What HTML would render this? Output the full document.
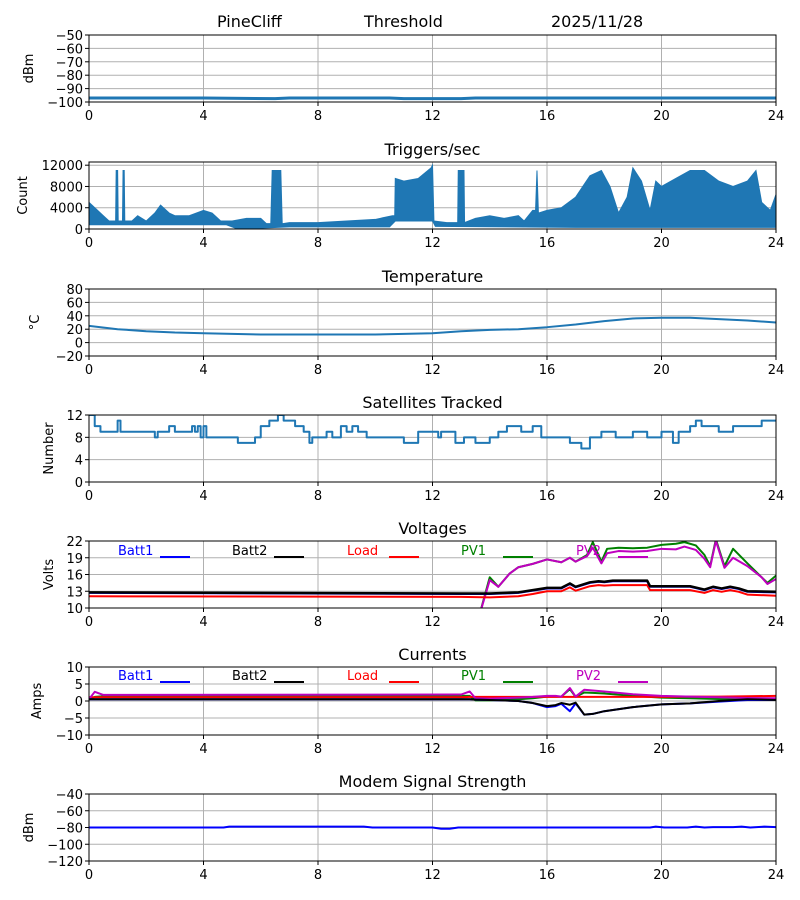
<!DOCTYPE html>
<html><head><meta charset="utf-8"><style>
body{margin:0;background:#fff;}
svg{display:block;font-family:"DejaVu Sans","Liberation Sans",sans-serif;}
</style></head><body>
<svg id="chart" width="800" height="900" xmlns="http://www.w3.org/2000/svg">
<text x="217" y="27" font-size="16">PineCliff</text>
<text x="364" y="27" font-size="16">Threshold</text>
<text x="551" y="27" font-size="16">2025/11/28</text>
</svg>
<script>
const xTicks=[0,4,8,12,16,20,24];
// Panel 1: signal dBm
const sigT=[0,4,6.5,7,10.5,11,13,13.5,18,24];
const sigV=[-97,-97,-97.5,-97,-97,-97.5,-97.5,-97,-97,-97];
// Panel 2: triggers envelope
const trgT=[0,0.3,0.5,0.7,0.93,0.95,1.0,1.02,1.17,1.19,1.23,1.25,1.5,1.7,2,2.3,2.5,2.8,3,3.5,4,4.3,4.6,5,5.5,6,6.2,6.35,6.4,6.7,6.75,7,8,9,10,10.6,10.68,10.7,11,11.5,11.95,12,12.05,12.5,12.88,12.9,13.1,13.12,13.5,14,14.5,15,15.2,15.5,15.6,15.65,15.7,16,16.5,17,17.5,17.9,18.2,18.5,18.8,19,19.3,19.6,19.8,20,20.5,21,21.5,22,22.5,23,23.3,23.5,23.8,24];
const trgHi=[5000,3500,2500,1500,1500,11000,11000,1500,1500,11000,11000,1500,1500,2500,1500,3000,4500,3000,2500,2500,3500,3000,1500,1500,2000,2000,1000,1000,11000,11000,1000,1200,1200,1500,1800,2500,2500,9500,9000,9500,11500,12000,1500,1200,1200,11000,11000,1200,2000,2500,2000,2500,1500,3500,3500,11000,3000,3500,4000,6000,10000,11000,8000,3000,6000,11500,9000,3500,9000,8000,9500,11000,11000,9000,8000,9000,11000,5000,3500,6500];
const trgLoT=[0,4.8,5.2,7,10.5,10.7,12,12.1,17,24];
const trgLo=[800,800,0,400,400,1500,1500,500,300,300];
// Panel 3: temperature
const tmpT=[0,1,2,3,4,5,6,8,10,11,12,13,14,15,16,17,18,19,20,21,22,23,24];
const tmpV=[25,20,17,15,14,13,12,12,12,13,14,17,19,20,23,27,32,36,37,37,35,33,30];
// Panel 4: satellites (step)
const satT=[0,0.2,0.4,1.0,1.1,2.3,2.4,2.8,3.0,3.6,3.7,3.8,3.9,4.0,4.1,4.3,5.2,5.8,6.0,6.3,6.6,6.8,7.2,7.5,7.7,7.8,8.3,8.5,8.8,9.0,9.2,9.4,9.7,10.2,11,11.5,12.2,12.3,12.8,13.1,13.5,14,14.3,14.6,15.1,15.5,15.8,16.8,17.2,17.5,17.9,18.4,19,19.5,20,20.4,20.6,21,21.2,21.4,22,22.5,23.5,24];
const satV=[12,10,9,11,9,8,9,10,9,10,9,10,8,10,8,8,7,8,10,11,12,11,10,9,7,8,9,8,10,9,10,9,8,8,7,9,8,9,7,8,7,8,9,10,9,10,8,7,6,8,9,8,9,8,9,7,9,10,11,10,9,10,11,11];
// Panel 5: voltages
const vT=[0,13,14,15,15.5,16,16.5,16.8,17,17.5,17.8,18,18.3,19,19.5,19.6,21,21.5,21.8,22.1,22.4,22.7,23,24];
const vBatt2=[12.8,12.6,12.6,12.8,13.2,13.6,13.6,14.4,13.8,14.6,14.8,14.7,14.9,14.9,14.9,13.9,13.9,13.3,13.8,13.5,13.8,13.5,13.0,12.9];
const vBatt1=[12.7,12.5,12.5,12.7,13.1,13.5,13.5,14.3,13.7,14.5,14.7,14.6,14.8,14.8,14.8,13.8,13.8,13.2,13.7,13.4,13.7,13.4,12.9,12.8];
const vLoad=[12.1,12.0,11.9,12.1,12.5,13.0,13.0,13.7,13.1,13.9,14.1,14.0,14.1,14.1,14.1,13.2,13.2,12.7,13.2,12.9,13.2,12.9,12.4,12.2];
const pvT=[13.6,14,14.3,14.7,15,15.5,16,16.5,16.8,17,17.4,17.6,17.9,18.1,18.5,19,19.5,20,20.5,20.8,21.2,21.5,21.7,21.9,22.2,22.5,23,23.5,23.7,24];
const vPV1=[8,15.5,13.8,16.2,17.3,17.9,18.7,18.2,19,18.3,19.5,21.8,18.3,20.6,20.8,20.7,20.8,21.3,21.5,21.8,21.2,19.5,17.5,22.3,17.5,20.6,18,15.5,14.5,15.8];
const vPV2=[8,15,13.8,16.2,17.3,17.9,18.7,18.2,19,18.3,19.3,20.8,18,19.8,20.2,20.1,20.2,20.6,20.5,21,20.4,18.8,17.3,22,17.2,19,17.5,15.5,14.3,15.2];
// Panel 6: currents
const aT=[0,0.2,0.5,13,13.3,13.5,14,15,15.5,16,16.3,16.5,16.8,17,17.3,17.6,18,19,20,21,22,23,24];
const aBatt2=[0.5,0.5,0.5,0.5,0.5,0.4,0.3,0,-0.6,-1.5,-1.2,-0.6,-1.1,-0.5,-4,-3.8,-3,-1.8,-1,-0.7,0,0.5,0.3];
const aBatt1=[0.5,0.5,0.5,0.5,0.5,0.4,0.3,0,-0.6,-1.8,-1.5,-0.8,-3,-0.7,-4,-3.8,-3,-1.8,-1,-0.7,-0.2,0.3,0.3];
const aLoad=[1.1,1.1,1.1,1.1,1.2,1.2,1.2,1.2,1.2,1.2,1.2,1.2,1.2,1.2,1.2,1.2,1.2,1.2,1.2,1.3,1.3,1.4,1.5];
const aPV1=[0.5,1.2,1.4,1.5,1.5,0.2,0.2,0.5,0.8,1.3,1.3,1.3,3.5,1.2,2.5,2.4,2.2,1.5,1.0,0.8,0.6,0.4,0.3];
const aPV2=[0.5,2.7,1.8,1.9,2.8,0.8,0.7,1.0,1.2,1.5,1.5,1.3,3.8,1.3,3.3,3.1,2.8,2.0,1.5,1.3,1.1,0.9,0.8];
// Panel 7: modem
const mT=[0,4.7,4.9,9.6,9.9,12,12.3,12.6,12.9,19.6,19.8,20.1,20.9,21.2,21.5,21.8,22.5,22.8,23.1,23.6,24];
const mV=[-80,-80,-79,-79,-80,-80,-81.5,-81.5,-80,-80,-79,-80,-80,-79,-80,-79.5,-79.5,-79,-80,-79,-79.5];

const svg=document.getElementById('chart');
const NS='http://www.w3.org/2000/svg';
const L=89,R=776;
function X(h){return L+(R-L)*h/24;}
function mk(tag,attrs,parent){const e=document.createElementNS(NS,tag);for(const k in attrs)e.setAttribute(k,attrs[k]);(parent||svg).appendChild(e);return e;}
function panel(name,top,bot,ymin,ymax,yTicks,ylabel,title,tickFmt){
  const g=mk('g',{});
  
  
  const Y=v=>bot-(bot-top)*(v-ymin)/(ymax-ymin);
  if(title){const t=mk('text',{x:(L+R)/2,y:top-7,'font-size':16,'text-anchor':'middle'},g);t.textContent=title;
    }
  const gr=mk('g',{stroke:'#b0b0b0','stroke-width':1},g);
  
  xTicks.forEach(h=>{mk('line',{x1:X(h),x2:X(h),y1:top,y2:bot},gr);});
  yTicks.forEach(v=>{mk('line',{x1:L,x2:R,y1:Y(v),y2:Y(v)},gr);});
  const xa=mk('g',{'font-size':13},g);
  
  xTicks.forEach(h=>{mk('line',{x1:X(h),x2:X(h),y1:bot,y2:bot+4,stroke:'#000'},xa);
    const t=mk('text',{x:X(h),y:bot+18,'text-anchor':'middle'},xa);t.textContent=h;});
  const ya=mk('g',{'font-size':13},g);
  
  yTicks.forEach(v=>{mk('line',{x1:L-4,x2:L,y1:Y(v),y2:Y(v),stroke:'#000'},ya);
    const t=mk('text',{x:L-6,y:Y(v)+5,'text-anchor':'end'},ya);t.textContent=(v<0?'\u2212'+(-v):v);});
  const yl=mk('text',{transform:`translate(${tickFmt},${(top+bot)/2}) rotate(-90)`,'font-size':13,'text-anchor':'middle'},g);
  yl.textContent=ylabel;
  const clipId=name+'-clip';
  const cp=mk('clipPath',{id:clipId},g);mk('rect',{x:L,y:top,width:R-L,height:bot-top},cp);
  const plot=mk('g',{'clip-path':`url(#${clipId})`},g);
  
  const frame=mk('rect',{x:L,y:top,width:R-L,height:bot-top,fill:'none',stroke:'#000','stroke-width':1},g);
  
  return {Y,plot,g};
}
function line(p,ts,vs,color,w,nm,step){
  let d='';
  ts.forEach((t,i)=>{const x=X(t),y=p.Y(vs[i]);
    if(i===0)d+=`M${x},${y}`;else if(step)d+=`H${x}V${y}`;else d+=`L${x},${y}`;});
  if(step)d+=`H${X(24)}`;
  const e=mk('path',{d,fill:'none',stroke:color,'stroke-width':w,'stroke-linejoin':'round'},p.plot);
  
  
  return e;
}
function legend(p,y){
  const items=[['Batt1','#0000ff',118],['Batt2','#000000',232],['Load','#ff0000',347],['PV1','#008000',461],['PV2','#bf00bf',576]];
  items.forEach(([lab,c,x])=>{
    const t=mk('text',{x,y:y,'font-size':13,fill:c},p.g);t.textContent=lab;
    
    
    mk('line',{x1:x+42,x2:x+72,y1:y+2,y2:y+2,stroke:c,'stroke-width':2},p.g);
  });
}
const blue='#1f77b4';
// 1
let p=panel('signal',35,102,-100,-50,[-100,-90,-80,-70,-60,-50],'dBm','',33);
line(p,sigT,sigV,blue,3,'signal-line');
// 2
p=panel('triggers',162,229,0,12600,[0,4000,8000,12000],'Count','Triggers/sec',27);
{let d='';trgT.forEach((t,i)=>{d+=(i?'L':'M')+X(t)+','+p.Y(trgHi[i]);});
 for(let i=trgLoT.length-1;i>=0;i--)d+='L'+X(trgLoT[i])+','+p.Y(trgLo[i]);d+='Z';
 const e=mk('path',{d,fill:blue,stroke:blue,'stroke-width':1},p.plot);
 
 }
// 3
p=panel('temperature',289,356,-20,80,[-20,0,20,40,60,80],'\u00b0C','Temperature',39);
line(p,tmpT,tmpV,blue,2,'temperature-line');
// 4
p=panel('satellites',415,482,0,12,[0,4,8,12],'Number','Satellites Tracked',53);
line(p,satT,satV,blue,2,'satellites-line',true);
// 5
p=panel('voltages',541,608,10,22,[10,13,16,19,22],'Volts','Voltages',53);
line(p,pvT,vPV1,'#008000',2,'pv1-voltage-line');
line(p,pvT,vPV2,'#bf00bf',2,'pv2-voltage-line');
line(p,vT,vLoad,'#ff0000',2,'load-voltage-line');
line(p,vT,vBatt1,'#0000ff',2,'batt1-voltage-line');
line(p,vT,vBatt2,'#000000',2.5,'batt2-voltage-line');
legend(p,555);
// 6
p=panel('currents',667,735,-10,10,[-10,-5,0,5,10],'Amps','Currents',41);
line(p,aT,aPV1,'#008000',2,'pv1-current-line');
line(p,aT,aLoad,'#ff0000',2,'load-current-line');
line(p,aT,aPV2,'#bf00bf',2,'pv2-current-line');
line(p,aT,aBatt1,'#0000ff',2,'batt1-current-line');
line(p,aT,aBatt2,'#000000',2,'batt2-current-line');
legend(p,680);
// 7
p=panel('modem',794,861,-120,-40,[-120,-100,-80,-60,-40],'dBm','Modem Signal Strength',33);
line(p,mT,mV,'#0000ff',2,'modem-line');
</script>
</body></html>
